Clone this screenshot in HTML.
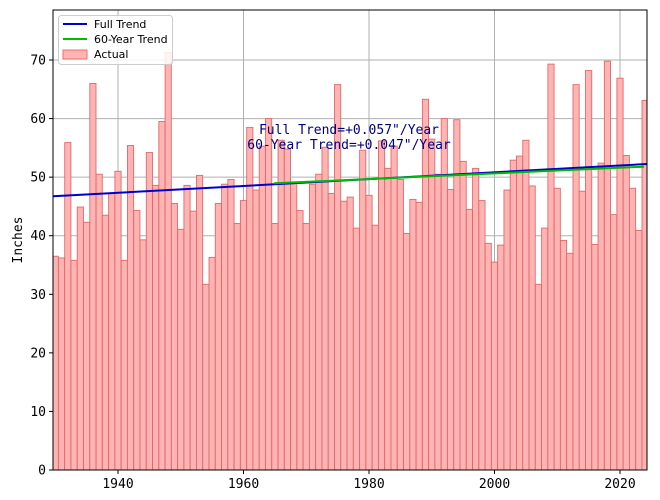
<!DOCTYPE html>
<html><head><meta charset="utf-8"><style>
html,body{margin:0;padding:0;background:#fff;}
svg text{font-family:"DejaVu Sans Mono","Liberation Mono",monospace;}
svg text.lg{font-family:"DejaVu Sans","Liberation Sans",sans-serif;}
</style></head><body>
<svg id="s" width="660" height="495" xmlns="http://www.w3.org/2000/svg">
<rect width="660" height="495" fill="#fff"/>
<g id="grid"></g>
<g id="bars"></g>
<line x1="53" y1="196.3" x2="647" y2="164" stroke="#0000cc" stroke-width="2"/>
<line x1="274" y1="183.3" x2="644" y2="166.7" stroke="#00bb00" stroke-width="2"/>
<text x="349" y="134" font-size="13" fill="#000080" text-anchor="middle">Full Trend=+0.057"/Year</text>
<text x="349" y="149" font-size="13" fill="#000080" text-anchor="middle">60-Year Trend=+0.047"/Year</text>
<rect x="53" y="10" width="594" height="460" fill="none" stroke="#000" stroke-width="1"/>
<g id="ticks"></g>
<text transform="translate(22,240) rotate(-90)" font-size="13" text-anchor="middle">Inches</text>
<g>
<rect x="58.5" y="15.5" width="114" height="49" rx="3" fill="#fff" fill-opacity="0.85" stroke="#ccc"/>
<line x1="63" y1="24" x2="87" y2="24" stroke="#0000cc" stroke-width="2"/>
<text class="lg" x="94" y="28" font-size="11">Full Trend</text>
<line x1="63" y1="39" x2="87" y2="39" stroke="#00bb00" stroke-width="2"/>
<text class="lg" x="94" y="43" font-size="11">60-Year Trend</text>
<rect x="63" y="50" width="24" height="9" fill="#ffb3b3" stroke="#e87070"/>
<text class="lg" x="94" y="58" font-size="11">Actual</text>
</g>
</svg>
<script>
var v=[36.5,36.2,55.9,35.8,44.9,42.3,66.0,50.5,43.5,47.2,51.0,35.8,55.4,44.3,39.3,54.2,48.6,59.5,71.3,45.5,41.1,48.6,44.2,50.3,31.7,36.3,45.5,48.8,49.6,42.1,46.0,58.5,47.8,55.3,60.0,42.1,56.3,54.8,48.9,44.3,42.1,48.8,50.5,55.1,47.2,65.8,45.9,46.6,41.3,54.6,46.9,41.8,56.2,51.5,55.3,49.6,40.4,46.2,45.7,63.3,56.5,50.5,60.0,47.9,59.8,52.7,44.5,51.5,46.0,38.7,35.5,38.4,47.8,52.9,53.6,56.3,48.5,31.7,41.3,69.3,48.1,39.2,37.0,65.8,47.6,68.2,38.5,52.4,69.8,43.6,66.9,53.7,48.1,40.9,63.1];
var NS="http://www.w3.org/2000/svg";
function el(t,a,p){var e=document.createElementNS(NS,t);for(var k in a)e.setAttribute(k,a[k]);p.appendChild(e);return e;}
var X=function(y){return 55.25+6.275*(y-1930);},Y=function(v){return 470-v*5.857;};
var g=document.getElementById('grid'),b=document.getElementById('bars'),t=document.getElementById('ticks');
for(var i=0;i<=70;i+=10){var y=Y(i);if(i>0)el('line',{x1:53,x2:647,y1:y,y2:y,stroke:'#b0b0b0','stroke-width':1},g);
el('line',{x1:49,x2:53,y1:y,y2:y,stroke:'#000'},t);var tx=el('text',{x:46,y:y+4.5,'font-size':13,'text-anchor':'end'},t);tx.textContent=i;}
for(var yr=1940;yr<=2020;yr+=20){var x=X(yr);el('line',{x1:x,x2:x,y1:10,y2:470,stroke:'#b0b0b0'},g);
el('line',{x1:x,x2:x,y1:470,y2:474,stroke:'#000'},t);var tx=el('text',{x:x,y:488,'font-size':13,'text-anchor':'middle'},t);tx.textContent=yr;}
for(var i=0;i<v.length;i++){var x=X(1930+i)-3.1,y=Y(v[i]);if(x<53){var w=6.2-(53-x);x=53;}else var w=6.2;if(x+w>647)w=647-x;
el('rect',{x:x,y:y,width:w,height:470-y,fill:'#ffb3b3',stroke:'#e06a6a','stroke-width':0.9},b);}
</script>
</body></html>
